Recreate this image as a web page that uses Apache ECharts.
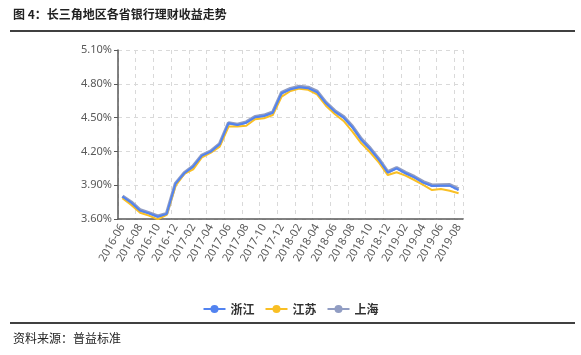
<!DOCTYPE html>
<html>
<head>
<meta charset="utf-8">
<script src="https://cdn.jsdelivr.net/npm/echarts@6/dist/echarts.min.js"></script>
<style>
html,body{margin:0;padding:0;background:#fff;}
#c{width:581px;height:355px;}
</style>
</head>
<body>
<div id="c"></div>
<script>
var months = ['2016-06','2016-07','2016-08','2016-09','2016-10','2016-11','2016-12',
'2017-01','2017-02','2017-03','2017-04','2017-05','2017-06','2017-07','2017-08','2017-09','2017-10','2017-11','2017-12',
'2018-01','2018-02','2018-03','2018-04','2018-05','2018-06','2018-07','2018-08','2018-09','2018-10','2018-11','2018-12',
'2019-01','2019-02','2019-03','2019-04','2019-05','2019-06','2019-07','2019-08'];
var zhejiang = [3.798,3.745,3.674,3.650,3.620,3.644,3.911,4.006,4.065,4.162,4.198,4.263,4.450,4.435,4.455,4.503,4.514,4.543,4.716,4.751,4.770,4.761,4.725,4.627,4.553,4.500,4.414,4.302,4.220,4.124,4.011,4.050,4.006,3.970,3.923,3.893,3.896,3.896,3.857];
var jiangsu = [3.784,3.724,3.656,3.630,3.597,3.636,3.893,4.000,4.041,4.148,4.189,4.242,4.420,4.420,4.428,4.485,4.494,4.523,4.686,4.736,4.757,4.746,4.707,4.606,4.532,4.470,4.375,4.272,4.192,4.100,3.990,4.015,3.985,3.946,3.902,3.857,3.866,3.851,3.828];
var shanghai = [3.802,3.750,3.680,3.655,3.625,3.648,3.915,4.010,4.070,4.166,4.203,4.268,4.452,4.440,4.460,4.508,4.520,4.548,4.722,4.757,4.776,4.768,4.732,4.634,4.560,4.508,4.422,4.310,4.228,4.130,4.018,4.055,4.012,3.976,3.930,3.900,3.902,3.903,3.866];
var yTicks = [3.6,3.9,4.2,4.5,4.8,5.1];
var seriesNames = ['浙江','江苏','上海'];
var colors = ['#5283f0','#f9bf24','#919dc3'];

var chart = echarts.init(document.getElementById('c'), null, {renderer:'canvas'});
var axisGrey = '#595959';
chart.setOption({
  animation:false,
  color: colors,
  graphic:[
    {type:'text', left:13, top:8, style:{text:'图 4：长三角地区各省银行理财收益走势', font:'bold 12px "Noto Sans CJK SC"', fill:'#222'}},
    {type:'line', shape:{x1:10,y1:31,x2:575,y2:31}, style:{stroke:'#000',lineWidth:1.5}},
    {type:'line', shape:{x1:10,y1:323,x2:575,y2:323}, style:{stroke:'#000',lineWidth:1.5}},
    {type:'text', left:13, top:332, style:{text:'资料来源：普益标准', font:'12px "Noto Sans CJK SC"', fill:'#222'}}
  ],
  legend:{
    data: seriesNames,
    top: 298,
    left: 'center',
    itemWidth: 22,
    itemHeight: 10,
    itemGap: 10,
    textStyle:{fontFamily:'"Noto Sans CJK SC"', fontSize:12, fontWeight:'bold', color:'#333'}
  },
  grid:{left:118, right:118, top:50, bottom:136},
  xAxis:{
    type:'category',
    data: months,
    boundaryGap:true,
    axisLine:{lineStyle:{color:axisGrey, width:1.5}},
    axisTick:{interval:1, alignWithLabel:true, length:4, lineStyle:{color:axisGrey}},
    axisLabel:{interval:1, rotate:60, fontFamily:'"Noto Sans"', fontSize:11, color:axisGrey, margin:6},
    splitLine:{show:true, interval:1, lineStyle:{type:[4,4], color:'#d9d9d9'}}
  },
  yAxis:{
    type:'value',
    min: yTicks[0],
    max: yTicks[yTicks.length-1],
    interval: 0.3,
    axisLine:{show:true, lineStyle:{color:axisGrey, width:1.5}},
    axisTick:{show:true, length:4, lineStyle:{color:axisGrey}},
    axisLabel:{fontFamily:'"Noto Sans"', fontSize:11, color:axisGrey, margin:6, formatter:function(v){return v.toFixed(2)+'%';}},
    splitLine:{show:true, lineStyle:{type:[4,4], color:'#d9d9d9'}}
  },
  series:[
    {name:seriesNames[0], type:'line', data:zhejiang, symbol:'circle', symbolSize:9, showSymbol:false, lineStyle:{width:2}, z:4},
    {name:seriesNames[1], type:'line', data:jiangsu, symbol:'circle', symbolSize:9, showSymbol:false, lineStyle:{width:2}, z:3},
    {name:seriesNames[2], type:'line', data:shanghai, symbol:'circle', symbolSize:9, showSymbol:false, lineStyle:{width:3.5}, z:2}
  ]
});
</script>
</body>
</html>
